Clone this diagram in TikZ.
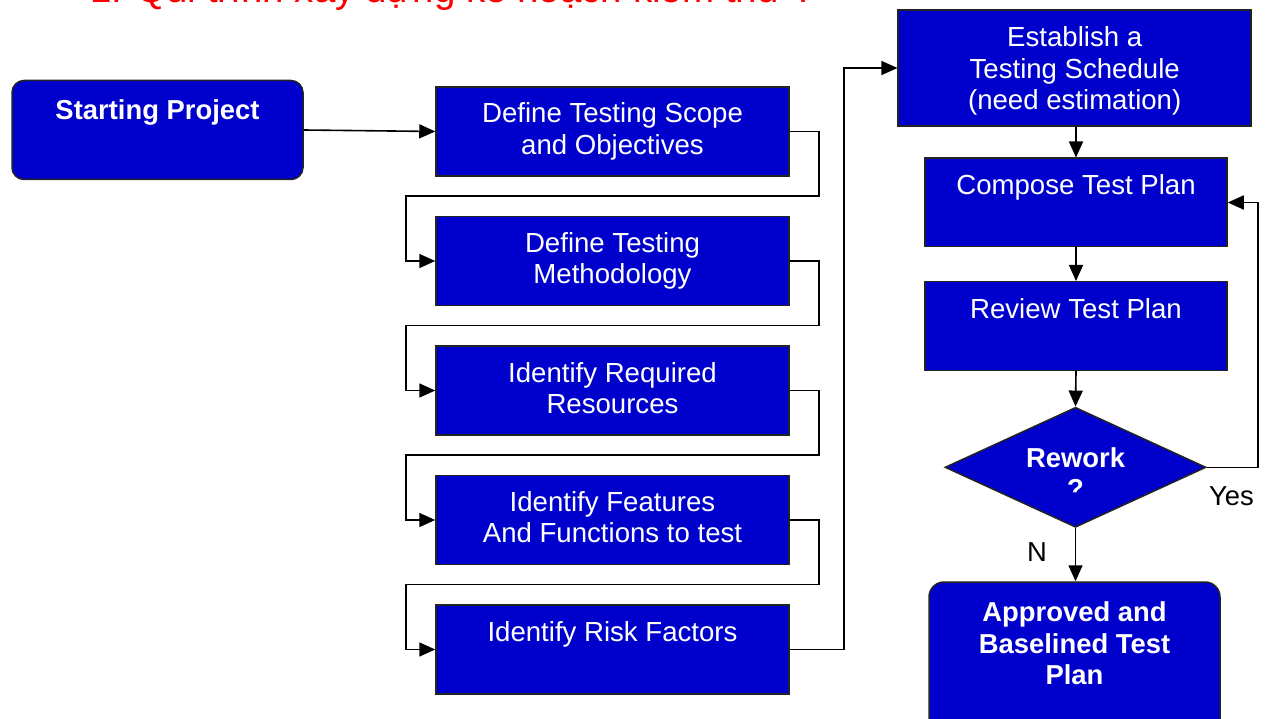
\documentclass[tikz,border=0pt]{standalone}
\usepackage{fontspec}
\setmainfont{Liberation Sans}
\usetikzlibrary{arrows.meta,shapes.geometric}
\definecolor{boxblue}{RGB}{0,0,204}
\definecolor{edgegray}{RGB}{35,35,35}
\newcommand{\boxlines}[1]{\parbox[t]{440pt}{\centering #1}}
\begin{document}
\begin{tikzpicture}[x=1pt,y=-1pt,
  box/.style={draw=edgegray, line width=1.5pt, fill=boxblue, rectangle, inner sep=0pt},
  colbox/.style={box, minimum width=353pt, minimum height=89pt},
  rightbox/.style={box, minimum width=302pt, minimum height=88.5pt},
  roundbox/.style={box, rounded corners=12pt, minimum width=291pt},
  txt/.style={text=white, inner sep=0pt, anchor=base, font=\fontsize{27.6}{31.3}\selectfont},
  btxt/.style={txt, font=\fontsize{27.4}{31.6}\selectfont\bfseries},
  lbl/.style={text=black, inner sep=0pt, anchor=base, font=\fontsize{27.4}{31}\selectfont},
  conn/.style={draw=black, line width=1.6pt, -{Triangle[length=16pt,width=14pt]}},
]
\useasboundingbox (0,0) rectangle (1266,719);
\clip (0,0) rectangle (1266,719);
\fill[white] (0,0) rectangle (1266,719);

% title (cut off at the top, as in the reference)
\node[anchor=base west, text=red, inner sep=0pt, font=\fontsize{38.5}{40}\selectfont] (title) at (90,3) {1. Qui trình xây dựng kế hoạch kiểm thử ?};

% boxes
\node[roundbox, minimum height=99pt] (start) at (157.5,130) {};
\node[colbox] (b1) at (612.5,131.5) {};
\node[colbox] (b2) at (612.5,261) {};
\node[colbox] (b3) at (612.5,390.5) {};
\node[colbox] (b4) at (612.5,520) {};
\node[colbox] (b5) at (612.5,649.5) {};
\node[box, minimum width=353pt, minimum height=116pt] (est) at (1074.7,68) {};
\node[rightbox] (comp) at (1076,202.5) {};
\node[rightbox] (rev) at (1076,326) {};
\node[box, diamond, minimum width=261pt, minimum height=120pt] (dia) at (1075.5,467.3) {};
\node[roundbox, rounded corners=15pt, minimum height=160pt] (appr) at (1074.5,662) {};

% texts
\node[btxt] (tstart) at (157.5,120) {Starting Project};
\node[txt] (t1) at (612.5,123) {\boxlines{Define Testing Scope\\and Objectives}};
\node[txt] (t2) at (612.5,252.5) {\boxlines{Define Testing\\Methodology}};
\node[txt] (t3) at (612.5,382) {\boxlines{Identify Required\\Resources}};
\node[txt] (t4) at (612.5,511.5) {\boxlines{Identify Features\\And Functions to test}};
\node[txt] (t5) at (612.5,641) {Identify Risk Factors};
\node[txt] (test) at (1074.7,47) {\boxlines{Establish a\\Testing Schedule\\(need estimation)}};
\node[txt] (tcomp) at (1076,195) {Compose Test Plan};
\node[txt] (trev) at (1076,318.3) {Review Test Plan};
\node[btxt] (tdia) at (1075.5,467.3) {Rework};
\begin{scope}
  \clip (1000,470) rectangle (1150,492);
  \node[btxt] (tq) at (1075.5,498.8) {?};
\end{scope}
\node[btxt] (tappr) at (1074.5,621.7) {\boxlines{Approved and\\Baselined Test\\Plan}};
\node[lbl] (yes) at (1231.5,505) {Yes};
\node[lbl] (no) at (1037,561.7) {N};

% connectors
\draw[conn] (start.east) -- (b1.west);
\draw[conn] (b1.east) -- ++(29,0) |- (406,196) |- (b2.west);
\draw[conn] (b2.east) -- ++(29,0) |- (406,325.5) |- (b3.west);
\draw[conn] (b3.east) -- ++(29,0) |- (406,455) |- (b4.west);
\draw[conn] (b4.east) -- ++(29,0) |- (406,584.5) |- (b5.west);
\draw[conn] (b5.east) -- ++(54,0) |- (est.west);
\draw[conn] (comp.north |- est.south) -- (comp.north);
\draw[conn] (comp.south) -- (rev.north);
\draw[conn] (rev.south) -- (dia.north);
\draw[conn] (dia.south) -- (dia.south |- appr.north);
\draw[conn] (dia.east) -- ++(51,0) |- (comp.east);
\end{tikzpicture}
\end{document}
